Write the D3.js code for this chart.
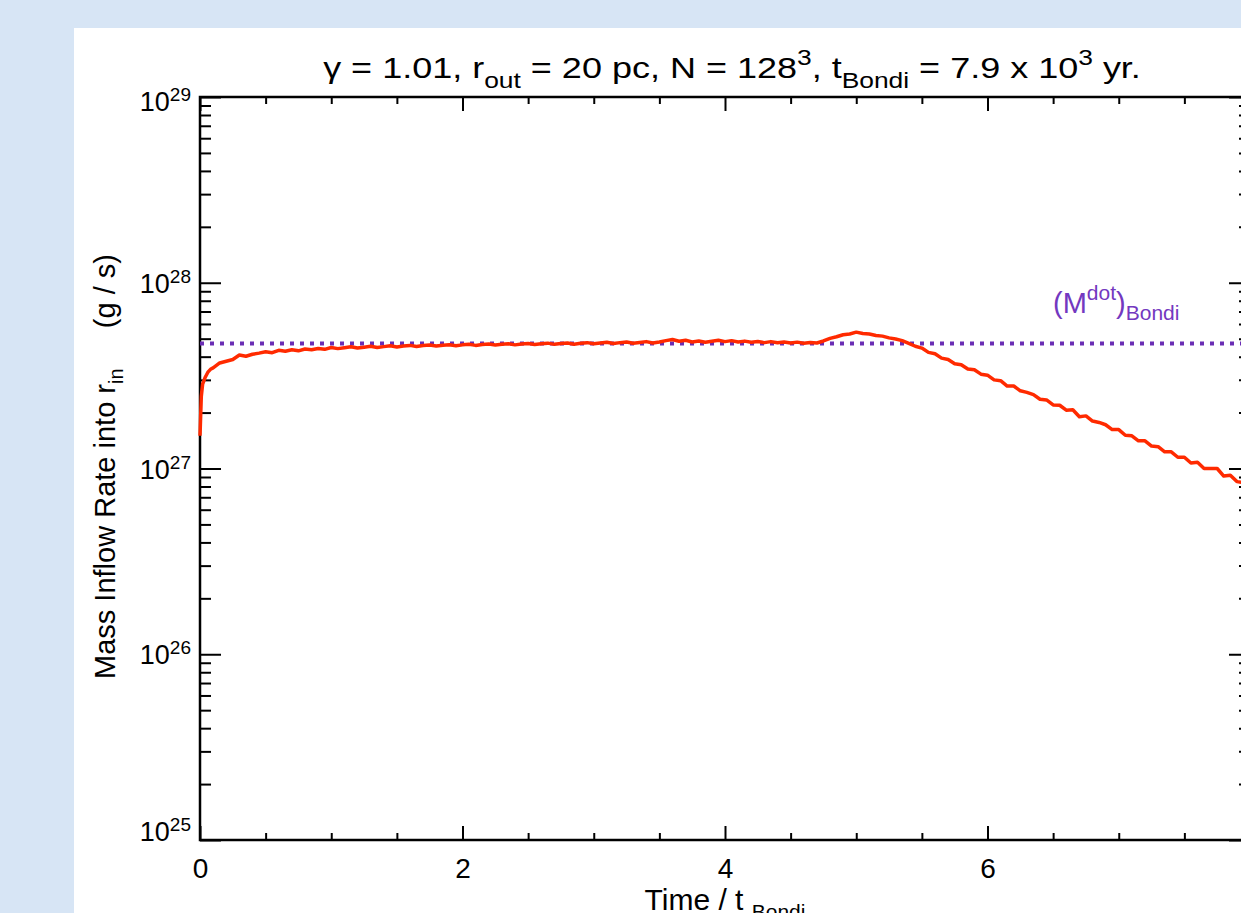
<!DOCTYPE html>
<html lang="en">
<head>
<meta charset="UTF-8">
<title>Mass Inflow Rate into r_in</title>
<script src="https://d3js.org/d3.v7.min.js"></script>
<style>
  html, body { margin: 0; padding: 0; overflow: hidden; background: #d7e5f5; }
  svg { display: block; font-family: "Liberation Sans", Arial, Helvetica, sans-serif; }
  text { white-space: pre; }
</style>
</head>
<body>
<div id="chart"></div>
<script>
// time in units of t_Bondi
const times = [0, 0.01, 0.02, 0.04, 0.06, 0.08,
  0.10, 0.15, 0.20, 0.25, 0.30, 0.35, 0.40, 0.45, 0.50, 0.55, 0.60, 0.65, 0.70, 0.75, 0.80, 0.85, 0.90, 0.95,
  1.00, 1.05, 1.10, 1.15, 1.20, 1.25, 1.30, 1.35, 1.40, 1.45, 1.50, 1.55, 1.60, 1.65, 1.70, 1.75, 1.80, 1.85, 1.90, 1.95,
  2.00, 2.05, 2.10, 2.15, 2.20, 2.25, 2.30, 2.35, 2.40, 2.45, 2.50, 2.55, 2.60, 2.65, 2.70, 2.75, 2.80, 2.85, 2.90, 2.95,
  3.00, 3.05, 3.10, 3.15, 3.20, 3.25, 3.30, 3.35, 3.40, 3.45, 3.50, 3.55, 3.60, 3.65, 3.70, 3.75, 3.80, 3.85, 3.90, 3.95,
  4.00, 4.05, 4.10, 4.15, 4.20, 4.25, 4.30, 4.35, 4.40, 4.45, 4.50, 4.55, 4.60, 4.65, 4.70, 4.75, 4.80, 4.85, 4.90, 4.95,
  5.00, 5.05, 5.10, 5.15, 5.20, 5.25, 5.30, 5.35, 5.40, 5.45, 5.50, 5.55, 5.60, 5.65, 5.70, 5.75, 5.80, 5.85, 5.90, 5.95,
  6.00, 6.05, 6.10, 6.15, 6.20, 6.25, 6.30, 6.35, 6.40, 6.45, 6.50, 6.55, 6.60, 6.65, 6.70, 6.75, 6.80, 6.85, 6.90, 6.95,
  7.00, 7.05, 7.10, 7.15, 7.20, 7.25, 7.30, 7.35, 7.40, 7.45, 7.50, 7.55, 7.60, 7.65, 7.70, 7.75, 7.80, 7.85, 7.90, 7.95];

// mass inflow rate, units of 1e27 g/s
const rate = [1.50, 2.45, 2.85, 3.10, 3.30, 3.42,
  3.48, 3.70, 3.78, 3.86, 4.08, 4.02, 4.12, 4.18, 4.25, 4.20, 4.33, 4.28, 4.36, 4.30, 4.40, 4.36, 4.43, 4.38,
  4.48, 4.42, 4.47, 4.52, 4.45, 4.50, 4.55, 4.48, 4.53, 4.58, 4.51, 4.56, 4.60, 4.54, 4.59, 4.62, 4.56, 4.61, 4.64, 4.58,
  4.63, 4.66, 4.60, 4.65, 4.68, 4.62, 4.66, 4.70, 4.63, 4.68, 4.71, 4.65, 4.69, 4.73, 4.66, 4.71, 4.74, 4.67, 4.72, 4.76,
  4.69, 4.74, 4.78, 4.71, 4.76, 4.80, 4.72, 4.77, 4.82, 4.74, 4.80, 4.88, 4.95, 4.84, 4.90, 4.80, 4.86, 4.78, 4.84, 4.90,
  4.82, 4.88, 4.80, 4.85, 4.78, 4.83, 4.76, 4.82, 4.75, 4.80, 4.74, 4.79, 4.72, 4.77, 4.74, 4.86, 5.02, 5.12, 5.25, 5.30,
  5.42, 5.33, 5.30, 5.20, 5.16, 5.05, 4.98, 4.88, 4.72, 4.55, 4.45, 4.22, 4.15, 3.93, 3.86, 3.66, 3.62, 3.43, 3.40, 3.22,
  3.18, 3.00, 2.97, 2.78, 2.78, 2.62, 2.57, 2.50, 2.36, 2.34, 2.20, 2.19, 2.06, 2.07, 1.90, 1.92, 1.80, 1.77, 1.72, 1.62,
  1.62, 1.51, 1.50, 1.41, 1.41, 1.32, 1.31, 1.23, 1.23, 1.15, 1.15, 1.07, 1.08, 1.00, 1.00, 1.00, 0.91, 0.92, 0.85, 0.84];

const bondiRate = 4.71;          // 1e27 g/s
const rateUnit = 1e27;

const xMajorTicks = [0, 2, 4, 6, 8];
const xMinorTicks = [0.5, 1, 1.5, 2.5, 3, 3.5, 4.5, 5, 5.5, 6.5, 7, 7.5];
const yMajorTicks = [1e25, 1e26, 1e27, 1e28, 1e29];
const yTickExponents = ["25", "26", "27", "28", "29"];

const W = 1241, H = 913;
const plot = { left: 200, right: 1250, top: 97, bottom: 840 };

const svg = d3.select("#chart").append("svg")
  .attr("width", W).attr("height", H);

// white panel on the blue page
svg.append("rect").attr("x", 74).attr("y", 28).attr("width", W - 74).attr("height", H - 28).attr("fill", "#fff");

const x = d3.scaleLinear().domain([0, 8]).range([plot.left, plot.right]);
const y = d3.scaleLog().domain([1e25, 1e29]).range([plot.bottom, plot.top]);

function styleAxis(g) {
  g.select(".domain").remove();
  g.selectAll(".tick line").attr("stroke", "#000").attr("stroke-width", 2);
}

// bottom / top axes
svg.append("g").attr("transform", `translate(0,${plot.bottom})`)
  .call(d3.axisBottom(x).tickValues(xMinorTicks).tickSize(-7).tickFormat(""))
  .call(styleAxis);
svg.append("g").attr("transform", `translate(0,${plot.bottom})`)
  .call(d3.axisBottom(x).tickValues(xMajorTicks).tickSize(-14).tickPadding(18).tickFormat(d3.format("d")))
  .call(styleAxis)
  .call(g => g.selectAll("text").attr("fill", "#000").style("font-size", "28px").attr("dy", "0.71em"))
  .call(g => g.selectAll(".tick").filter(d => x(d) + 8 > W).select("text").remove());
svg.append("g").attr("transform", `translate(0,${plot.top})`)
  .call(d3.axisTop(x).tickValues(xMinorTicks).tickSize(-7).tickFormat(""))
  .call(styleAxis);
svg.append("g").attr("transform", `translate(0,${plot.top})`)
  .call(d3.axisTop(x).tickValues(xMajorTicks).tickSize(-14).tickFormat(""))
  .call(styleAxis);

// left / right log axes
const yMinor = y.ticks().filter(v => !yMajorTicks.includes(v));
svg.append("g").attr("transform", `translate(${plot.left},0)`)
  .call(d3.axisLeft(y).tickValues(yMinor).tickSize(-11).tickFormat(""))
  .call(styleAxis);
svg.append("g").attr("transform", `translate(${plot.left},0)`)
  .call(d3.axisLeft(y).tickValues(yMajorTicks).tickSize(-21).tickFormat(""))
  .call(styleAxis);
svg.append("g").attr("transform", `translate(${plot.right},0)`)
  .call(d3.axisRight(y).tickValues(yMinor).tickSize(-11).tickFormat(""))
  .call(styleAxis);
svg.append("g").attr("transform", `translate(${plot.right},0)`)
  .call(d3.axisRight(y).tickValues(yMajorTicks).tickSize(-21).tickFormat(""))
  .call(styleAxis);

// frame
svg.append("rect").attr("x", plot.left).attr("y", plot.top)
  .attr("width", plot.right - plot.left).attr("height", plot.bottom - plot.top)
  .attr("fill", "none").attr("stroke", "#000").attr("stroke-width", 2.5);

// y tick labels 10^n
yMajorTicks.forEach((v, i) => {
  const base = Math.min(Math.max(y(v) + 10, plot.top + 14), plot.bottom + 1);
  const t = svg.append("text").attr("x", 191).attr("y", base)
    .attr("text-anchor", "end").attr("fill", "#000");
  t.append("tspan").style("font-size", "27px").text("10");
  t.append("tspan").attr("dy", -10).style("font-size", "19px").text(yTickExponents[i]);
});

// text with sub/superscripts
function richText(sel, parts, size, small, subOff, supOff) {
  let shift = 0;
  parts.forEach(p => {
    const target = p.sub ? subOff : p.sup ? -supOff : 0;
    sel.append("tspan").attr("dy", target - shift)
      .style("font-size", (p.sub || p.sup) ? small : size).text(p.t);
    shift = target;
  });
}

// title (the original plot's lettering is a little wider than Arial)
const title = svg.append("text")
  .attr("transform", `translate(${(plot.left + plot.right) / 2 + 7},78) scale(1.2,1)`)
  .attr("text-anchor", "middle").attr("fill", "#000");
richText(title, [
  { t: "γ = 1.01, r" }, { t: "out", sub: true }, { t: " = 20 pc, N = 128" }, { t: "3", sup: true },
  { t: ", t" }, { t: "Bondi", sub: true }, { t: " = 7.9 x 10" }, { t: "3", sup: true }, { t: " yr." }
], "30px", "22px", 10, 13);

// x label
const xLab = svg.append("text").attr("x", (plot.left + plot.right) / 2).attr("y", 910)
  .attr("text-anchor", "middle").attr("fill", "#000");
richText(xLab, [{ t: "Time / t " }, { t: "Bondi", sub: true }], "30px", "21px", 9, 0);

// y label
const yLab = svg.append("text")
  .attr("transform", `translate(115,${(plot.top + plot.bottom) / 2 - 2}) rotate(-90)`)
  .attr("text-anchor", "middle").attr("fill", "#000");
richText(yLab, [{ t: "Mass Inflow Rate into r" }, { t: "in", sub: true }, { t: "     (g / s)" }], "29px", "20px", 8, 0);

// Bondi rate reference line
svg.append("line")
  .attr("x1", plot.left).attr("x2", plot.right)
  .attr("y1", y(bondiRate * rateUnit)).attr("y2", y(bondiRate * rateUnit))
  .attr("stroke", "#6a2db4").attr("stroke-width", 4).attr("stroke-dasharray", "4,6");

const bl = svg.append("text").attr("x", 1053).attr("y", 313).attr("fill", "#7338c0");
richText(bl, [{ t: "(M" }, { t: "dot", sup: true }, { t: ")" }, { t: "Bondi", sub: true }], "29px", "21px", 7, 13);

// inflow rate curve
const series = times.map((t, i) => ({ t, v: rate[i] * rateUnit }));
svg.append("path").datum(series)
  .attr("fill", "none").attr("stroke", "#ff2a00").attr("stroke-width", 3.5)
  .attr("stroke-linejoin", "round")
  .attr("d", d3.line().x(d => x(d.t)).y(d => y(d.v)));
</script>
</body>
</html>
